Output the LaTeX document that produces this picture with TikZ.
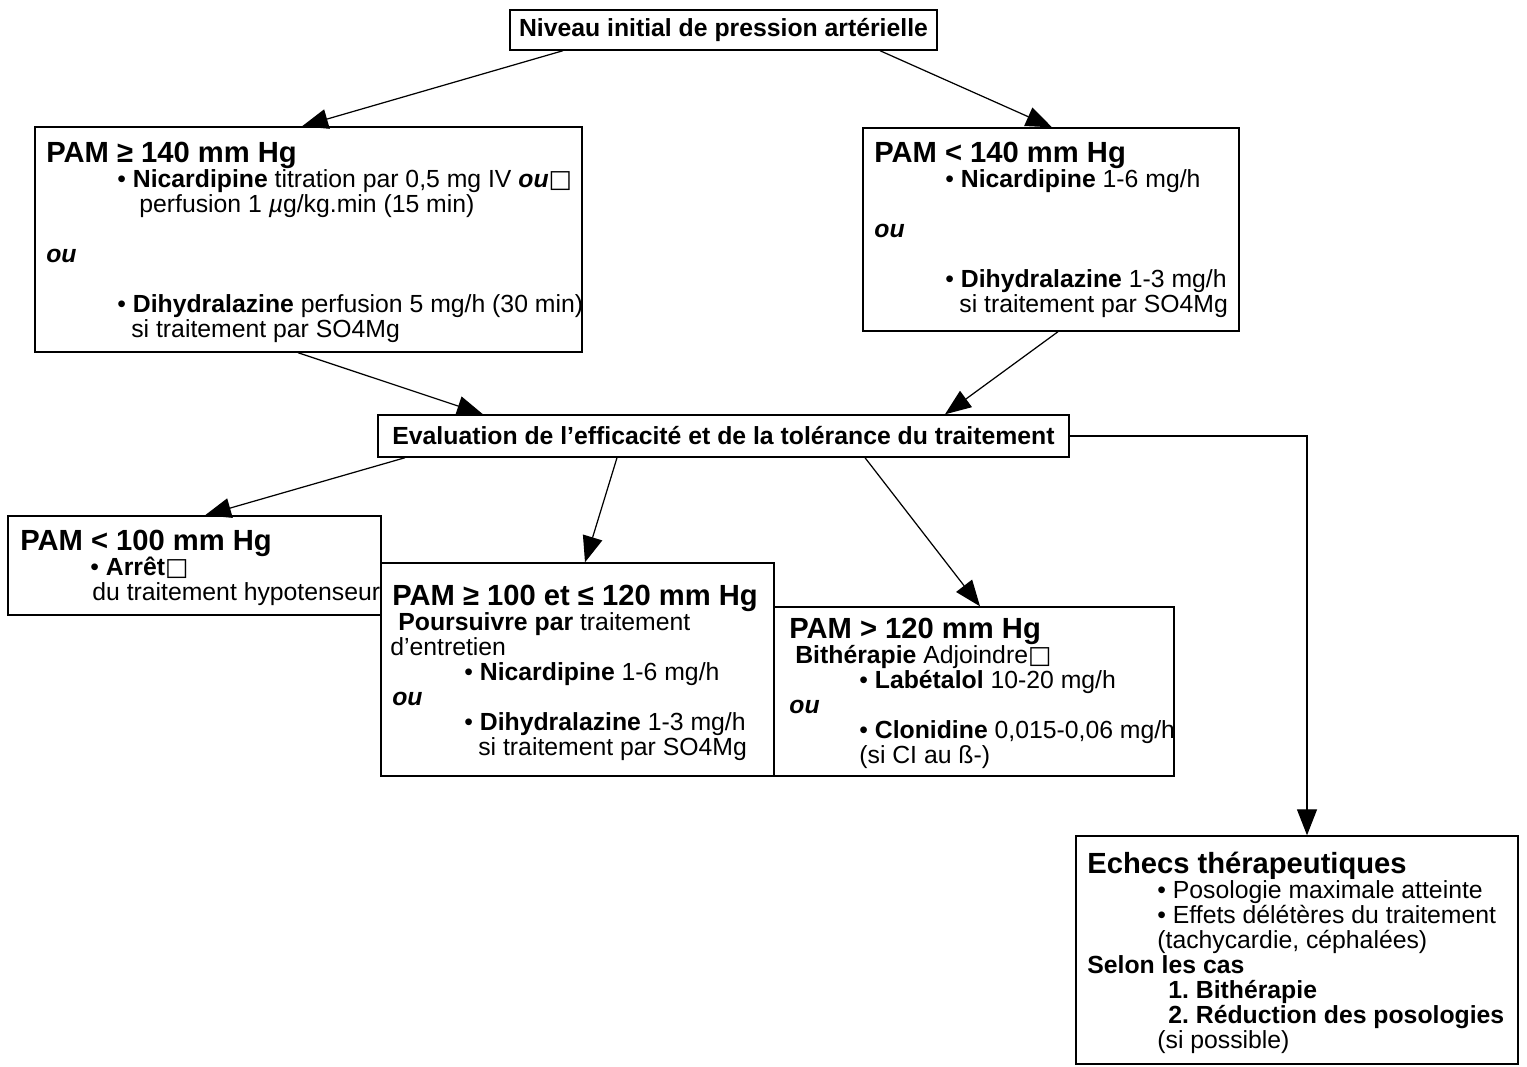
\documentclass[tikz,border=0pt]{standalone}
\usepackage{fontspec}
\setmainfont{Liberation Sans}
\newfontfamily\dejavufont{DejaVu Sans}
\usetikzlibrary{arrows.meta,fit}
\frenchspacing

\newlength\px
\setlength\px{0.02cm}
\newcommand\bodyfont{\fontsize{14.1}{14.2}\selectfont}
\newcommand\headfont{\fontsize{16.6}{18}\selectfont\bfseries}
\newcommand\sqbox{{\dejavufont □}}
\newcommand\ou{\textbf{\textit{ou}}}

\tikzset{
  box/.style={draw, line width=0.8pt, inner sep=0pt},
  txt/.style={anchor=north west, align=left, inner sep=0pt, font=\bodyfont},
  arr/.style={-{Triangle[length=0.52cm,width=0.4cm]}, line width=0.7pt},
}

\begin{document}
\begin{tikzpicture}[x=0.02cm, y=-0.02cm]
  \useasboundingbox (0,0) rectangle (1527,1066);

  % boites
  \node[box, fit={(510,10) (937,50)}] (init) {};
  \node[box, fit={(35,127) (582,352)}] (hi) {};
  \node[box, fit={(863,128) (1239,331)}] (lo) {};
  \node[box, fit={(378,415) (1069,457)}] (eval) {};
  \node[box, fit={(8,516) (381,615)}] (bas) {};
  \node[box, fit={(381,563) (774,776)}] (mid) {};
  \node[box, fit={(774,607) (1174,776)}] (haut) {};
  \node[box, fit={(1076,836) (1518,1064)}] (echec) {};

  % textes
  \node[font=\bodyfont\bfseries] (inittext) at (init) {Niveau initial de pression artérielle};
  \node[font=\bodyfont\bfseries] (evaltext) at (eval) {Evaluation de l’efficacité et de la tolérance du traitement};
  \node[txt] (hitext) at (46,142) {{\headfont PAM ≥ 140 mm Hg}\\
    \hspace*{71\px}• \textbf{Nicardipine} titration par 0,5 mg IV \ou\sqbox\\
    \hspace*{93\px}perfusion 1 \textit{µ}g/kg.min (15 min)\\[14.2pt]
    \ou\\[14.2pt]
    \hspace*{71\px}• \textbf{Dihydralazine} perfusion 5 mg/h (30 min)\\
    \hspace*{85\px}si traitement par SO4Mg};
  \node[txt] (lotext) at (874,142) {{\headfont PAM < 140 mm Hg}\\
    \hspace*{71\px}• \textbf{Nicardipine} 1-6 mg/h\\[14.2pt]
    \ou\\[14.2pt]
    \hspace*{71\px}• \textbf{Dihydralazine} 1-3 mg/h\\
    \hspace*{85\px}si traitement par SO4Mg};
  \node[txt] (bastext) at (20,530) {{\headfont PAM < 100 mm Hg}\\
    \hspace*{70\px}• \textbf{Arrêt}\sqbox\\
    \hspace*{72\px}du traitement hypotenseur};
  \node[txt] (midtext) at (392,585) {{\headfont PAM ≥ 100 et ≤ 120 mm Hg}\\
    \hspace*{6\px}\textbf{Poursuivre par} traitement\\
    \hspace*{-2\px}d'entretien\\
    \hspace*{72\px}• \textbf{Nicardipine} 1-6 mg/h\\
    \ou\\
    \hspace*{72\px}• \textbf{Dihydralazine} 1-3 mg/h\\
    \hspace*{86\px}si traitement par SO4Mg};
  \node[txt] (hauttext) at (789,618) {{\headfont PAM > 120 mm Hg}\\
    \hspace*{6\px}\textbf{Bithérapie} Adjoindre\sqbox\\
    \hspace*{70\px}• \textbf{Labétalol} 10-20 mg/h\\
    \ou\\
    \hspace*{70\px}• \textbf{Clonidine} 0,015-0,06 mg/h\\
    \hspace*{70\px}(si CI au ß-)};
  \node[txt] (echectext) at (1087,852) {{\headfont Echecs thérapeutiques}\\
    \hspace*{70\px}• Posologie maximale atteinte\\
    \hspace*{70\px}• Effets délétères du traitement\\
    \hspace*{70\px}(tachycardie, céphalées)\\
    \textbf{Selon les cas}\\
    \hspace*{81\px}\textbf{1. Bithérapie}\\
    \hspace*{81\px}\textbf{2. Réduction des posologies}\\
    \hspace*{70\px}(si possible)};

  % fleches
  \draw[arr] (init.south -| 563,0) -- (hi.north -| 302,0);
  \draw[arr] (init.south -| 880,0) -- (lo.north -| 1052,0);
  \draw[arr] (hi.south -| 298,0) -- (eval.north -| 483,0);
  \draw[arr] (lo.south -| 1058,0) -- (eval.north -| 945,0);
  \draw[arr] (eval.south -| 405,0) -- (bas.north -| 205,0);
  \draw[arr] (eval.south -| 617,0) -- (mid.north -| 585,0);
  \draw[arr] (eval.south -| 865,0) -- (haut.north -| 980,0);
  \draw[arr] (eval.east) -| (echec.north -| 1307,0);
\end{tikzpicture}
\end{document}
